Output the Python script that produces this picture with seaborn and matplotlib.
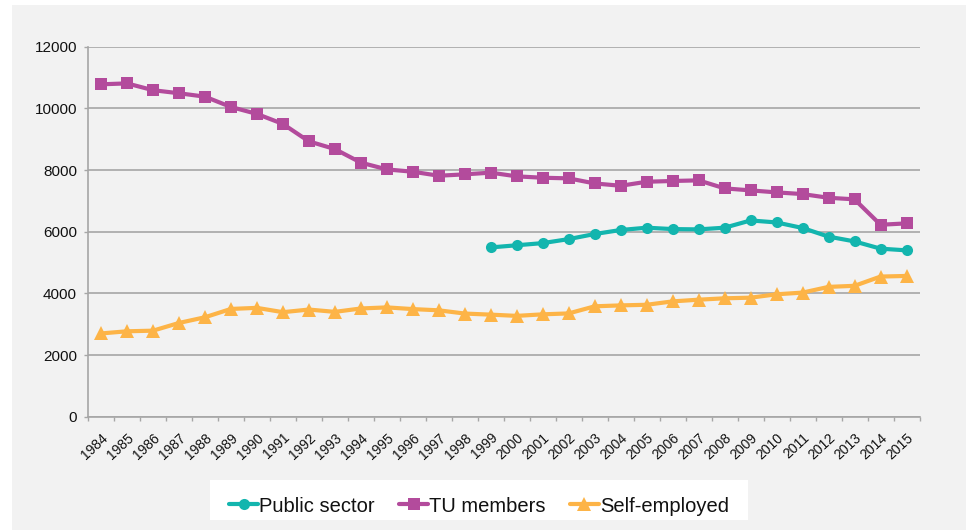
import numpy as np
import pandas as pd
import matplotlib
matplotlib.use("Agg")
import matplotlib.pyplot as plt
from matplotlib.patches import Rectangle
from matplotlib.ticker import FixedLocator, NullFormatter
from matplotlib.transforms import ScaledTranslation
import seaborn as sns

years = list(range(1984, 2016))
tu_members = [10780, 10810, 10590, 10490, 10380, 10045, 9820, 9495, 8930, 8680,
              8240, 8020, 7945, 7815, 7860, 7915, 7795, 7750, 7730, 7565,
              7490, 7620, 7645, 7665, 7405, 7340, 7275, 7220, 7100, 7050,
              6225, 6270]
public_sector = [np.nan] * 15 + [5490, 5560, 5630, 5760, 5925, 6055, 6130, 6085,
                                 6075, 6130, 6365, 6300, 6120, 5840, 5685, 5450, 5395]
self_employed = [2700, 2770, 2790, 3040, 3225, 3495, 3530, 3390, 3475, 3400,
                 3510, 3545, 3490, 3450, 3345, 3310, 3270, 3320, 3350, 3580,
                 3610, 3630, 3740, 3795, 3840, 3860, 3970, 4025, 4210, 4245,
                 4545, 4565]
series_names = ["Public sector", "TU members", "Self-employed"]
colors = ["#13B5AE", "#B34B9C", "#FDB447"]
markers = ["o", "s", "^"]

sns.set_theme(style="white")
plt.rcParams["font.family"] = ["Liberation Sans", "DejaVu Sans"]

fig = plt.figure(figsize=(9.68, 5.30), dpi=100)
fig.patch.set_facecolor("white")
# light grey panel
fig.patches.append(Rectangle((12 / 968, 0), 954 / 968, 525 / 530, transform=fig.transFigure,
                             facecolor="#F2F2F2", edgecolor="none", zorder=-10))
# white legend box
fig.patches.append(Rectangle((210 / 968, (530 - 520) / 530), 538 / 968, 40 / 530,
                             transform=fig.transFigure, facecolor="white",
                             edgecolor="none", zorder=-9))

ax = fig.add_axes([88 / 968, (530 - 416.7) / 530, (919.5 - 88) / 968, 370 / 530])
ax.set_facecolor("none")

df = pd.DataFrame({"year": years, "Public sector": public_sector,
                   "TU members": tu_members, "Self-employed": self_employed})

for name, c, m in zip(series_names, colors, markers):
    sub = df[["year", name]].dropna()
    ms = 9.5 if m == "^" else 8
    sns.lineplot(data=sub, x="year", y=name, ax=ax, color=c, linewidth=3.0,
                 marker=m, markersize=ms, markeredgewidth=0, label=name,
                 legend=False, zorder=3)

ax.set_xlim(years[0] - 0.5, years[-1] + 0.5)
ax.set_ylim(0, 12000)
ax.set_yticks(range(0, 12001, 2000))
ax.set_xticks(years)
ax.set_xticklabels([str(y) for y in years], rotation=43, ha="right",
                   rotation_mode="anchor", fontsize=10, color="#111111")
offset = ScaledTranslation(3 / 100, 0, fig.dpi_scale_trans)
for lbl in ax.get_xticklabels():
    lbl.set_transform(lbl.get_transform() + offset)
ax.xaxis.set_minor_locator(FixedLocator(np.arange(years[0] - 0.5, years[-1] + 1, 1)))
ax.xaxis.set_minor_formatter(NullFormatter())
ax.tick_params(axis="x", which="major", length=0, pad=10)
ax.tick_params(axis="x", which="minor", length=3, width=1, color="#A6A6A6", direction="out",
               bottom=True)
ax.tick_params(axis="y", which="major", length=3, width=1, color="#A6A6A6", direction="out",
               left=True, labelsize=11, labelcolor="#111111", pad=5)
ax.set_xlabel("")
ax.set_ylabel("")

ax.grid(axis="y", color="#A6A6A6", linewidth=1.2)
ax.set_axisbelow(True)
for s in ["top", "right"]:
    ax.spines[s].set_visible(False)
for s in ["left", "bottom"]:
    ax.spines[s].set_color("#A6A6A6")
    ax.spines[s].set_linewidth(1.2)

handles, labels = ax.get_legend_handles_labels()
leg = fig.legend(handles, labels, loc="center", bbox_to_anchor=(479 / 968, (530 - 506) / 530),
                 ncol=3, frameon=False, fontsize=14.5, handlelength=1.45,
                 handletextpad=0.05, columnspacing=1.2, numpoints=1)
for t in leg.get_texts():
    t.set_color("#111111")

fig.savefig("out.png", dpi=100, facecolor=fig.get_facecolor())
